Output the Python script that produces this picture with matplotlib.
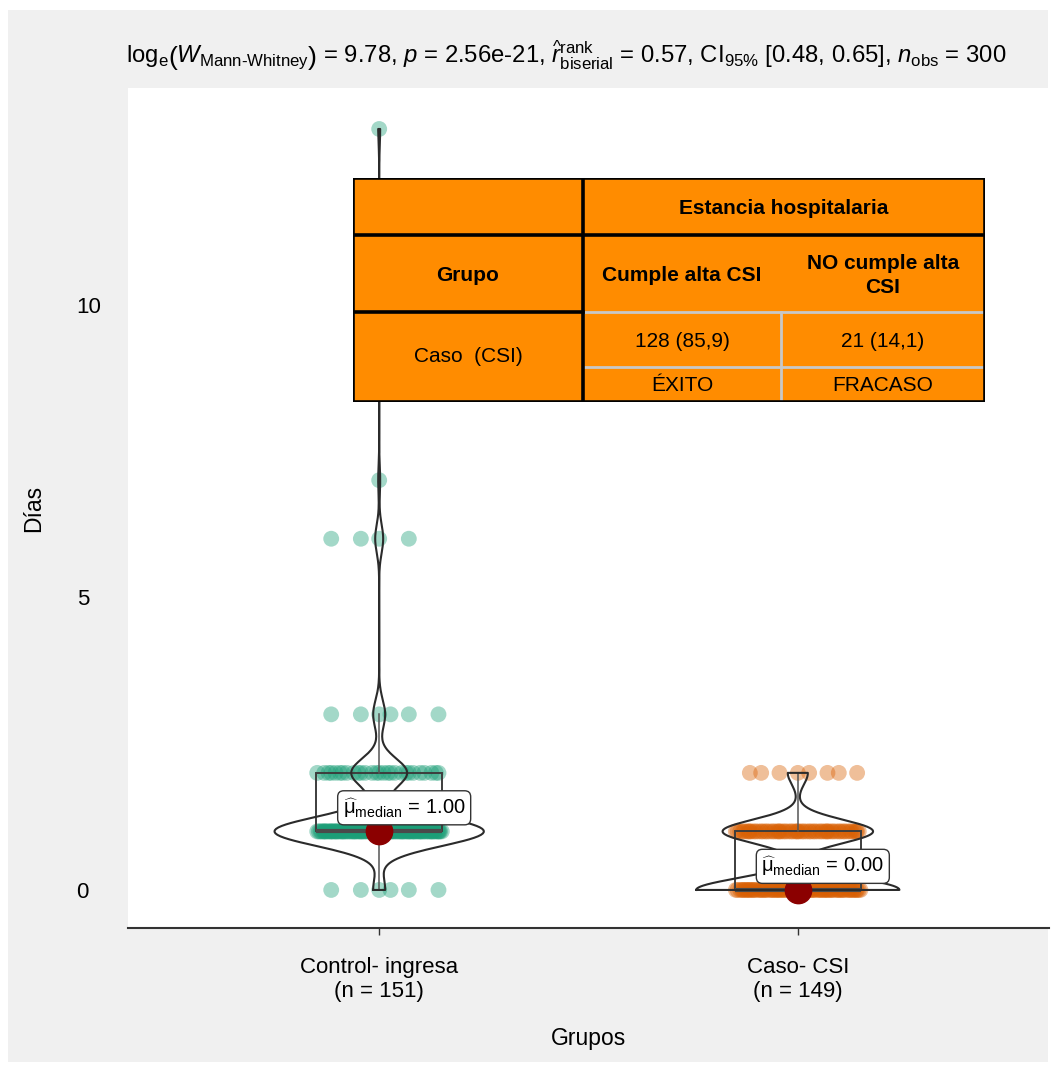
import matplotlib.pyplot as plt
import numpy as np
from matplotlib.patches import Rectangle

plt.rcParams['font.family'] = ['Liberation Sans', 'DejaVu Sans']
plt.rcParams['mathtext.fontset'] = 'custom'
plt.rcParams['mathtext.rm'] = 'Liberation Sans'
plt.rcParams['mathtext.it'] = 'Liberation Sans:italic'
plt.rcParams['mathtext.bf'] = 'Liberation Sans:bold'

# Days of stay per group (value levels and how many patients at each level)
groups = ["Control- ingresa", "Caso- CSI"]
group_n = [151, 149]
control_levels = [0, 1, 2, 3, 6, 7, 13]
control_counts = [6, 105, 28, 6, 4, 1, 1]
caso_levels = [0, 1, 2]
caso_counts = [81, 60, 8]
colors = ["#1B9E77", "#D95F02"]

yticks = [0, 5, 10]

subtitle = (r"$\mathrm{log}_{\mathrm{e}}\left(W_{\mathrm{Mann\text{-}Whitney}}\right)$ = 9.78, $p$ = 2.56e-21, "
            r"$\widehat{r}_{\mathrm{biserial}}^{\mathrm{rank}}$ = 0.57, CI$_{95\%}$ [0.48, 0.65], "
            r"$n_{\mathrm{obs}}$ = 300")

# Summary table drawn over the plot
table_title = "Estancia hospitalaria"
table_cols = ["Grupo", "Cumple alta CSI", "NO cumple alta\nCSI"]
table_row_label = "Caso  (CSI)"
table_counts = ["128 (85,9)", "21 (14,1)"]
table_outcome = ["ÉXITO", "FRACASO"]


def nrd0(x):
    sd = np.std(x, ddof=1)
    q75, q25 = np.percentile(x, [75, 25])
    return 0.9 * min(sd, (q75 - q25) / 1.34) * len(x) ** -0.2


def kde(x, grid):
    bw = nrd0(x)
    z = (grid[:, None] - x[None, :]) / bw
    return np.exp(-0.5 * z ** 2).sum(axis=1) / (len(x) * bw * np.sqrt(2 * np.pi))


def spread(counts, width=0.3):
    # deterministic horizontal spread of the points within each value level
    golden = (np.sqrt(5) - 1) / 2
    return np.concatenate([((np.arange(c) * golden + 0.5) % 1 - 0.5) * width for c in counts])


samples = [np.repeat(control_levels, control_counts).astype(float),
           np.repeat(caso_levels, caso_counts).astype(float)]
offsets = [spread(control_counts), spread(caso_counts)]

fig = plt.figure(figsize=(10.63, 10.68), dpi=100)
W, H = 1063, 1068
bg = Rectangle((8 / W, 6 / H), 1040 / W, 1052 / H, transform=fig.transFigure,
               facecolor="#f0f0f0", edgecolor="none", zorder=-5)
fig.add_artist(bg)

ax = fig.add_axes([128 / W, (H - 928) / H, 921 / W, 840 / H])
ax.set_facecolor("white")
ax.set_xlim(0.4, 2.6)
ax.set_ylim(-0.65, 13.7)

# violins, area scaled to the tallest density
grids, dens = [], []
for x in samples:
    g = np.linspace(x.min(), x.max(), 512)
    grids.append(g)
    dens.append(kde(x, g))
dmax = max(d.max() for d in dens)

for i, x in enumerate(samples):
    pos = i + 1
    # jittered points
    ax.scatter(pos + offsets[i], x, s=130, color=colors[i], alpha=0.4, edgecolors="none",
               zorder=1)

    # box plot
    q1, med, q3 = np.percentile(x, [25, 50, 75])
    iqr = q3 - q1
    hi = x[x <= q3 + 1.5 * iqr].max()
    lo = x[x >= q1 - 1.5 * iqr].min()
    ax.add_patch(Rectangle((pos - 0.15, q1), 0.3, q3 - q1, fill=False,
                           edgecolor="#3d3d3d", lw=1.4, zorder=2))
    ax.plot([pos, pos], [q3, hi], color="#555555", lw=1.1, zorder=2)
    ax.plot([pos, pos], [lo, q1], color="#555555", lw=1.1, zorder=2)
    ax.plot([pos - 0.15, pos + 0.15], [med, med], color="#4a4a4a", lw=3, zorder=2,
            solid_capstyle="butt")

    # violin outline
    half = dens[i] / dmax * 0.25
    g = grids[i]
    vx = np.concatenate([pos - half, (pos + half)[::-1], [pos - half[0]]])
    vy = np.concatenate([g, g[::-1], [g[0]]])
    ax.plot(vx, vy, color="#2b2b2b", lw=1.5, zorder=3)

    # median
    ax.scatter(pos, med, s=360, color="#8B0000", zorder=5)
    ax.annotate(r"$\widehat{\mathrm{\mu}}_{\mathrm{median}}\,=\,%.2f$" % med, (pos, med),
                xytext=(18, 17), textcoords="offset points", ha="center", va="center",
                fontsize=14.5, zorder=6,
                bbox=dict(boxstyle="round,pad=0.25,rounding_size=0.3", fc="white",
                          ec="#333333", lw=1))

for s in ["top", "right", "left"]:
    ax.spines[s].set_visible(False)
ax.spines["bottom"].set_color("#333333")
ax.spines["bottom"].set_linewidth(1.5)

ax.set_xticks([1, 2])
ax.set_xticklabels([f"{g}\n(n = {n})" for g, n in zip(groups, group_n)], fontsize=16)
ax.tick_params(axis="x", length=5, width=1, color="#333333", pad=16)
ax.set_yticks(yticks)
ax.set_yticklabels([str(t) for t in yticks], fontsize=16, ha="left")
ax.tick_params(axis="y", length=0, pad=37)
ax.set_xlabel("Grupos", fontsize=16.5, labelpad=18)
ax.set_ylabel("Días", fontsize=16.5)
ax.yaxis.set_label_coords(-83 / 921, 0.5)

fig.text(566 / W, (H - 56) / H, subtitle, fontsize=17.2, ha="center", va="center")

# table overlay
tax = fig.add_axes([353 / W, (H - 402) / H, 632 / W, 224 / H])
tax.set_xlim(0, 632)
tax.set_ylim(224, 0)
tax.axis("off")
orange = "#FF8C00"
tax.add_patch(Rectangle((0, 0), 632, 224, facecolor=orange, edgecolor="none", zorder=0))
cx = [0, 230, 428, 632]
ry = [0, 57, 134, 189, 224]
black = dict(color="black", lw=2.6, zorder=3, solid_capstyle="projecting")
grey = dict(color="#c8c8c8", lw=2, zorder=2)
tax.plot([cx[1], cx[3]], [ry[2], ry[2]], **grey)
tax.plot([cx[1], cx[3]], [ry[3], ry[3]], **grey)
tax.plot([cx[2], cx[2]], [ry[2], ry[4]], **grey)
tax.plot([0, 632, 632, 0, 0], [0, 0, 224, 224, 0], **black)
tax.plot([0, 632], [ry[1], ry[1]], **black)
tax.plot([0, cx[1]], [ry[2], ry[2]], **black)
tax.plot([cx[1], cx[1]], [0, 224], **black)

tfs = 15
tax.text((cx[1] + cx[3]) / 2, ry[1] / 2 + 2, table_title, ha="center", va="center",
         fontsize=tfs, fontweight="bold")
for j, label in enumerate(table_cols):
    tax.text((cx[j] + cx[j + 1]) / 2, (ry[1] + ry[2]) / 2 + 2, label, ha="center",
             va="center", fontsize=tfs, fontweight="bold", linespacing=1.3)
tax.text(cx[1] / 2, (ry[2] + ry[4]) / 2, table_row_label, ha="center", va="center",
         fontsize=tfs)
for j in range(2):
    tax.text((cx[j + 1] + cx[j + 2]) / 2, (ry[2] + ry[3]) / 2 + 2, table_counts[j],
             ha="center", va="center", fontsize=tfs)
    tax.text((cx[j + 1] + cx[j + 2]) / 2, (ry[3] + ry[4]) / 2 + 1, table_outcome[j],
             ha="center", va="center", fontsize=tfs)

fig.savefig("out.png", dpi=100)
